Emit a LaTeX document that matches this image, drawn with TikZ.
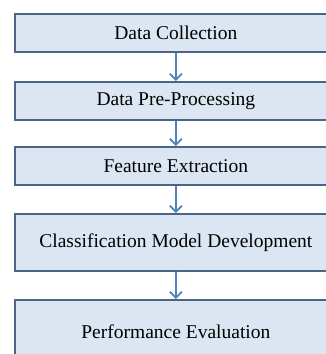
\documentclass[tikz,border=0pt]{standalone}
\usepackage{fontspec}
\setmainfont{Liberation Serif}
\usetikzlibrary{arrows.meta}
\definecolor{boxfill}{HTML}{DCE6F2}
\definecolor{boxline}{HTML}{4A6587}
\definecolor{arrowcol}{HTML}{4F81BD}
\begin{document}
\begin{tikzpicture}[x=1pt,y=-1pt,
  flowbox/.style={draw=boxline,fill=boxfill,line width=1.7pt,minimum width=322pt,anchor=north west,inner sep=0pt,
    font=\fontsize{19.5}{22}\selectfont},
  flowarrow/.style={draw=arrowcol,line width=1.8pt,-{Straight Barb[length=6pt,width=12pt,line width=1.8pt]}}]
\useasboundingbox (0,0) rectangle (326,354);
\clip (0,0) rectangle (326,354);
\fill[white] (0,0) rectangle (326,354);
\node[flowbox,minimum height=38pt] (b1) at (14,13) {Data Collection};
\node[flowbox,minimum height=38pt] (b2) at (14,81) {Data Pre-Processing};
\node[flowbox,minimum height=38pt] (b3) at (14,146) {Feature Extraction};
\node[flowbox,minimum height=57pt] (b4) at (14,213) {Classification Model Development};
\node[flowbox,minimum height=64pt] (b5) at (14,299) {Performance Evaluation};
\draw[flowarrow] (b1.south) -- (b2.north);
\draw[flowarrow] (b2.south) -- (b3.north);
\draw[flowarrow] (b3.south) -- (b4.north);
\draw[flowarrow] (b4.south) -- (b5.north);
\end{tikzpicture}
\end{document}
